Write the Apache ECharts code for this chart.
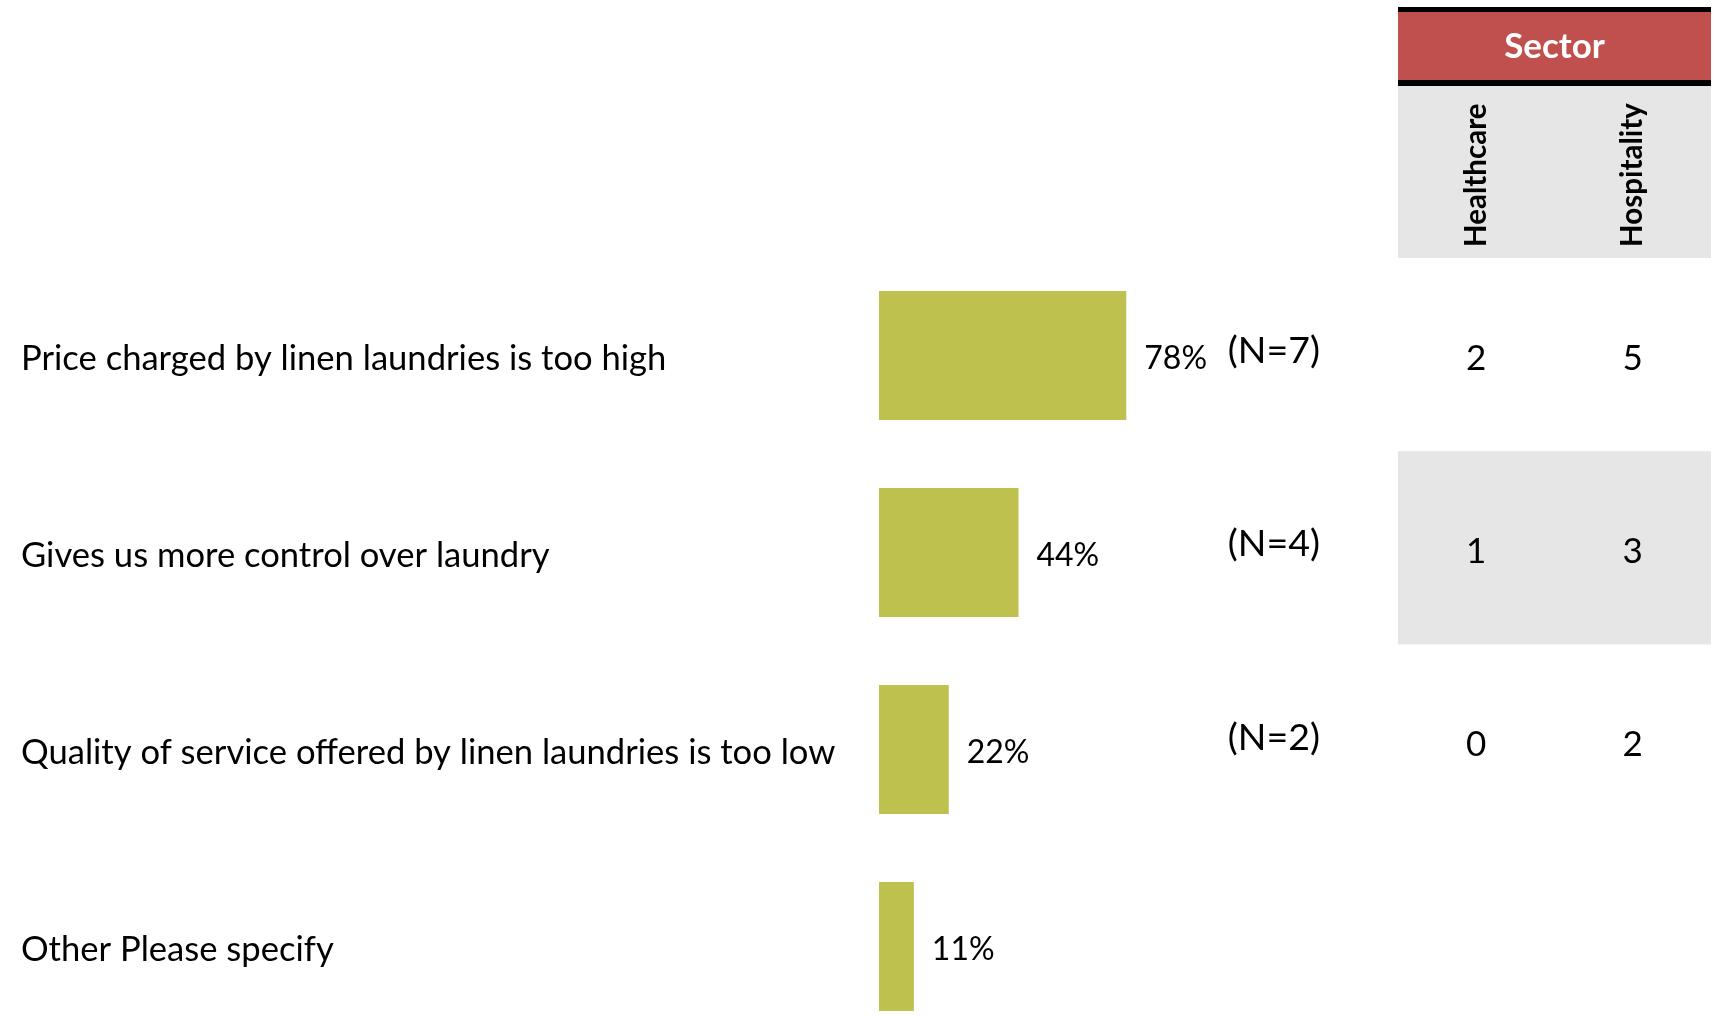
<!DOCTYPE html>
<html>
<head>
<meta charset="utf-8">
<script src="https://cdn.jsdelivr.net/npm/echarts@6/dist/echarts.min.js"></script>
<style>
  html, body { margin: 0; padding: 0; background: #ffffff; }
  #chart { width: 1716px; height: 1016px; }
</style>
</head>
<body>
<div id="chart"></div>
<script>
// Reasons for bringing laundry in-house: share of respondents, sample size and sector split
const reasons = [
  'Price charged by linen laundries is too high',
  'Gives us more control over laundry',
  'Quality of service offered by linen laundries is too low',
  'Other Please specify'
];
const sharePct = [78, 44, 22, 11];
const sampleN = [7, 4, 2, null];
const sectors = ['Healthcare', 'Hospitality'];
const healthcareCounts = [2, 1, 0, null];
const hospitalityCounts = [5, 3, 2, null];
const sectorTitle = 'Sector';
const shadedReason = reasons[1];

const FONT = 'Lato, "Open Sans", sans-serif';
const BAR_COLOR = '#bfc14f';
const HEADER_RED = '#c0504d';
const ROW_GREY = '#e6e6e6';

// Table cells: [column index, row index, count]
const tableCells = [];
reasons.forEach((r, i) => {
  if (healthcareCounts[i] != null) tableCells.push([0, i, healthcareCounts[i]]);
  if (hospitalityCounts[i] != null) tableCells.push([1, i, hospitalityCounts[i]]);
});

const chart = echarts.init(document.getElementById('chart'), null, { renderer: 'canvas' });

const TABLE_LEFT = 1398, TABLE_W = 313;

chart.setOption({
  animation: false,
  backgroundColor: '#ffffff',
  textStyle: { fontFamily: FONT },
  grid: [
    { left: 879, top: 257, width: 317, height: 788, containLabel: false, outerBoundsMode: 'none' },
    { left: TABLE_LEFT, top: 258, width: TABLE_W, height: 773, containLabel: false, outerBoundsMode: 'none' }
  ],
  xAxis: [
    { gridIndex: 0, type: 'value', min: 0, max: 100, show: false },
    {
      gridIndex: 1, type: 'category', data: sectors, position: 'top',
      axisLine: { show: false }, axisTick: { show: false }, splitLine: { show: false },
      axisLabel: {
        rotate: -90, margin: 11, color: '#000000',
        fontFamily: FONT, fontSize: 29.5, fontWeight: 'bold'
      }
    }
  ],
  yAxis: [
    {
      gridIndex: 0, type: 'category', data: reasons, inverse: true,
      axisLine: { show: false }, axisTick: { show: false }, splitLine: { show: false },
      axisLabel: {
        align: 'left', margin: 858,
        formatter: v => '{t|' + v + '}',
        rich: {
          t: { color: '#000000', fontFamily: FONT, fontSize: 34.6, padding: [7, 0, 0, 0] }
        }
      }
    },
    {
      gridIndex: 1, type: 'category', data: reasons, inverse: true,
      axisLine: { show: false }, axisTick: { show: false }, splitLine: { show: false },
      axisLabel: {
        margin: 78,
        formatter: (v, idx) => sampleN[idx] != null ? '{n|(N=' + sampleN[idx] + ')}' : '',
        rich: {
          n: { color: '#000000', fontFamily: FONT, fontSize: 37.5, padding: [0, 0, 7, 0] }
        }
      }
    }
  ],
  graphic: [
    // Sector header band with black rules above and below
    { type: 'rect', z: -10, shape: { x: TABLE_LEFT, y: 7, width: TABLE_W, height: 79 }, style: { fill: '#000000' } },
    { type: 'rect', z: -9, shape: { x: TABLE_LEFT, y: 12, width: TABLE_W, height: 68 }, style: { fill: HEADER_RED } },
    {
      type: 'text', z: 10, x: TABLE_LEFT + TABLE_W / 2, y: 47,
      style: {
        text: sectorTitle, fill: '#ffffff', font: 'bold 35px ' + FONT,
        textAlign: 'center', textVerticalAlign: 'middle'
      }
    },
    // Grey strip behind the sector names
    { type: 'rect', z: -10, shape: { x: TABLE_LEFT, y: 86, width: TABLE_W, height: 172 }, style: { fill: ROW_GREY } }
  ],
  series: [
    {
      type: 'bar', xAxisIndex: 0, yAxisIndex: 0,
      data: sharePct, barWidth: 129,
      itemStyle: { color: BAR_COLOR },
      label: {
        show: true, position: 'right', distance: 18, offset: [0, 3.5],
        formatter: '{c}%', color: '#000000', fontFamily: FONT, fontSize: 32
      },
      z: 3
    },
    {
      // shaded table row
      type: 'custom', xAxisIndex: 1, yAxisIndex: 1, z: 1,
      data: [[0, shadedReason]],
      renderItem: (params, api) => {
        const c = api.coord([0, api.value(1)]);
        const h = api.size([1, 1])[1];
        return {
          type: 'rect',
          shape: { x: params.coordSys.x, y: c[1] - h / 2, width: params.coordSys.width, height: h },
          style: { fill: ROW_GREY }
        };
      },
      silent: true
    },
    {
      // sector counts per table cell
      type: 'custom', xAxisIndex: 1, yAxisIndex: 1, z: 4,
      data: tableCells,
      encode: { x: 0, y: 1 },
      renderItem: (params, api) => {
        const c = api.coord([api.value(0), api.value(1)]);
        return {
          type: 'text',
          x: c[0], y: c[1] + 4,
          style: {
            text: String(api.value(2)),
            fill: '#000000',
            font: '35px ' + FONT,
            align: 'center', verticalAlign: 'middle',
            textAlign: 'center', textVerticalAlign: 'middle'
          }
        };
      },
      silent: true
    }
  ]
});
</script>
</body>
</html>
